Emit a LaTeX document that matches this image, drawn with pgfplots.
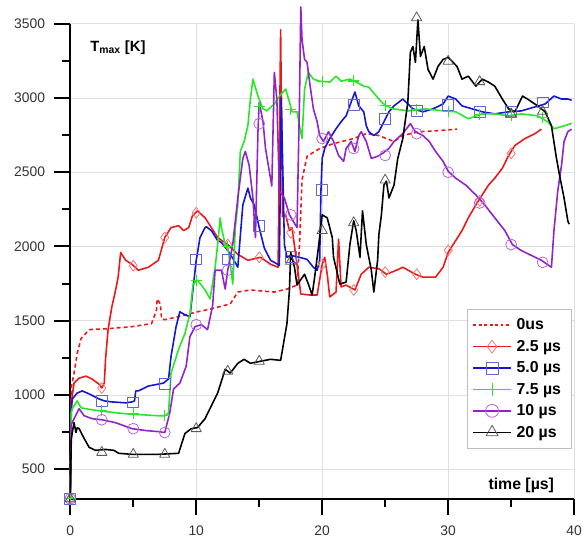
\documentclass[border=0pt]{standalone}
\usepackage{fontspec}
\setmainfont{Liberation Sans}
\usepackage{pgfplots}
\pgfplotsset{compat=1.18}
\usetikzlibrary{calc}
\definecolor{cRed}{RGB}{235,25,25}
\definecolor{cBlue}{RGB}{20,20,210}
\definecolor{cGreen}{RGB}{40,230,40}
\definecolor{cPurple}{RGB}{145,35,200}
\definecolor{mRed}{RGB}{240,120,120}
\definecolor{mBlue}{RGB}{100,100,225}
\definecolor{mPurple}{RGB}{180,100,220}
\definecolor{mGray}{RGB}{90,90,90}
\begin{document}
\begin{tikzpicture}
\begin{axis}[name=ax, scale only axis, width=509pt, height=480pt,
  xmin=0, xmax=40, ymin=300, ymax=3500, clip=false,
  axis x line*=bottom, axis y line*=left,
  axis line style={line width=2.4pt, black},
  xtick={0,10,20,30,40}, minor xtick={5,15,25,35},
  ytick={500,1000,1500,2000,2500,3000,3500}, minor ytick={750,1250,1750,2250,2750,3250},
  tick align=outside, major tick length=16pt, minor tick length=8pt,
  every tick/.style={black, line width=2pt},
  every minor tick/.style={black, line width=2pt},
  grid=major, major grid style={black!12, line width=0.6pt},
  /pgf/number format/assume math mode=true,
  /pgf/number format/1000 sep={},
  ticklabel style={font=\fontsize{14}{16}\selectfont, text=black!80},
  yticklabel style={xshift=-6pt},
  xticklabel style={yshift=-8pt},
  legend style={at={(0.994,0.40)}, anchor=north east, draw=black!25, fill=white,
    font=\bfseries\fontsize{16}{19}\selectfont, row sep=5pt, inner xsep=5pt, inner ysep=8pt,
    nodes={inner xsep=5pt}},
  legend cell align=left,
  every axis plot/.append style={line width=1.6pt, line join=round},
]
\addlegendimage{legend image code/.code={\draw[cRed, line width=1.6pt, dash pattern=on 3pt off 2.5pt] (0pt,0pt) -- (38pt,0pt);}}
\addlegendentry{0us}
\addlegendimage{legend image code/.code={\draw[cRed, line width=1.6pt] (0pt,0pt) -- (38pt,0pt); \draw[mRed, line width=0.8pt] plot[mark=diamond, mark size=6.5pt] coordinates {(19pt,0pt)};}}
\addlegendentry{2.5 µs}
\addlegendimage{legend image code/.code={\draw[cBlue, line width=1.6pt] (0pt,0pt) -- (38pt,0pt); \draw[mBlue, line width=0.8pt] plot[mark=square, mark size=6pt] coordinates {(19pt,0pt)};}}
\addlegendentry{5.0 µs}
\addlegendimage{legend image code/.code={\draw[cGreen, line width=1.6pt] (0pt,0pt) -- (38pt,0pt); \draw[cGreen, line width=1.2pt] plot[mark=+, mark size=7pt] coordinates {(19pt,0pt)};}}
\addlegendentry{7.5 µs}
\addlegendimage{legend image code/.code={\draw[cPurple, line width=1.6pt] (0pt,0pt) -- (38pt,0pt); \draw[mPurple, line width=0.8pt] plot[mark=o, mark size=6.5pt] coordinates {(19pt,0pt)};}}
\addlegendentry{10 µs}
\addlegendimage{legend image code/.code={\draw[black, line width=1.6pt] (0pt,0pt) -- (38pt,0pt); \draw[mGray, line width=0.8pt] plot[mark=triangle, mark size=7pt] coordinates {(19pt,0pt)};}}
\addlegendentry{20 µs}

% 0us
\addplot[cRed, dash pattern=on 4pt off 3pt, forget plot] coordinates {
(0,300) (0.05,900) (0.1,1060) (0.3,1147) (0.55,1280) (0.86,1380) (1.5,1440) (3.1,1447) (4.9,1460) (6.45,1480) (6.85,1573) (6.9,1647) (7.15,1613) (7.25,1513) (7.5,1507) (8.6,1527) (10.1,1560) (11.2,1580) (12.7,1613) (13.3,1693) (14.3,1707) (16.2,1693) (17.2,1713) (18,1740) (18.2,2013) (18.4,2450) (18.8,2607) (19.8,2660) (20.9,2693) (22.5,2727) (23.5,2760) (24.5,2747) (25.7,2707) (26.4,2747) (27.7,2773) (29.2,2780) (30.7,2790)};

% 2.5 us
\addplot[cRed, forget plot] coordinates {
(0,300) (0.08,950) (0.3,1080) (0.7,1113) (1.26,1127) (1.73,1107) (2.28,1073) (2.5,1047) (2.7,1080) (2.8,1240) (3.0,1440) (3.3,1593) (3.6,1707) (3.8,1793) (4.0,1960) (4.4,1907) (4.9,1880) (5.4,1840) (6.2,1860) (7.0,1907) (7.5,2060) (8.0,2127) (8.6,2140) (9.0,2107) (9.4,2127) (9.7,2207) (10.1,2240) (10.7,2193) (11.2,2127) (11.7,2060) (12.5,2013) (13.3,1947) (14.1,1907) (15.1,1927) (15.9,1880) (16.5,1860) (16.7,3460) (16.85,2200) (17.1,2213) (17.4,2107) (17.6,2127) (18.0,1880) (18.3,1680) (19.0,1673) (19.6,1673) (20.0,1880) (20.2,1927) (20.4,1813) (20.6,1660) (21.1,1693) (21.3,2050) (21.5,1727) (21.9,1740) (22.6,1707) (23.1,1813) (23.7,1860) (24.5,1850) (25.1,1813) (25.9,1840) (26.4,1860) (27.4,1813) (28.0,1793) (29.0,1793) (29.6,1860) (30.0,1960) (30.6,2040) (31.1,2107) (31.6,2193) (32.2,2280) (32.7,2347) (33.2,2413) (33.7,2460) (34.3,2527) (34.8,2613) (35.3,2680) (36.1,2727) (36.9,2760) (37.4,2790)};
\addplot[only marks, mark=diamond, mark size=5.5pt, mark options={mRed, line width=0.8pt}, forget plot] coordinates {
(0,300) (2.5,1047) (5,1870) (7.5,2060) (10,2227) (12.5,2013) (15,1927) (17.5,2093) (20,1880) (22.5,1707) (25,1827) (27.5,1813) (30,1973) (32.5,2307) (35,2627)};

% 5.0 us
\addplot[cBlue, forget plot] coordinates {
(0,300) (0.08,900) (0.16,973) (0.55,1013) (0.95,1027) (1.5,1007) (2.28,973) (2.7,960) (3.3,953) (4.4,947) (4.9,953) (5.1,960) (5.2,1027) (5.4,1027) (6.2,1060) (7.0,1073) (7.4,1080) (7.8,1107) (8.0,1260) (8.4,1460) (8.7,1560) (9.1,1540) (9.5,1527) (9.7,1680) (10.0,1907) (10.3,2060) (10.7,2127) (10.8,2133) (11.2,2107) (11.7,2040) (12.0,2027) (12.5,1973) (13.0,1907) (13.3,1860) (13.7,2280) (14.1,2393) (14.3,2327) (14.6,2280) (15.0,2127) (15.4,1990) (15.9,1907) (16.6,1873) (16.75,3000) (17.0,2013) (17.2,1927) (17.5,1940) (18.2,1927) (18.8,1913) (19.3,1860) (19.6,1840) (19.8,1907) (19.9,2373) (20.0,2593) (20.2,2660) (20.6,2727) (21.1,2793) (21.5,2840) (21.9,2880) (22.3,2973) (22.6,3040) (22.9,2947) (23.3,2907) (23.5,2813) (23.7,2773) (24.1,2747) (24.5,2773) (24.9,2840) (25.3,2907) (25.7,2947) (26.4,2993) (27.2,2927) (28.0,2907) (28.8,2927) (29.6,2960) (30.0,3013) (30.6,2993) (31.1,2947) (31.9,2927) (32.7,2907) (33.7,2893) (34.8,2907) (35.8,2913) (36.9,2940) (37.7,2960) (38.4,3013) (39.0,2993) (39.5,2993) (39.8,2985)};
\addplot[only marks, mark=square, mark size=5.5pt, mark options={mBlue, line width=0.8pt}, forget plot] coordinates {
(0,300) (2.5,960) (5,950) (7.5,1073) (10,1913) (12.5,1913) (15,2140) (17.5,1930) (20,2380) (22.5,2955) (25,2860) (27.5,2915) (30,2955) (32.5,2907) (35,2907) (37.5,2970)};

% 7.5 us
\addplot[cGreen, forget plot] coordinates {
(0,300) (0.08,880) (0.16,907) (0.55,960) (0.86,913) (1.26,907) (2.28,893) (4.4,873) (7.0,860) (7.5,860) (7.8,880) (8.0,1147) (8.6,1307) (9.1,1413) (9.5,1547) (9.75,1747) (10.1,1773) (10.7,1707) (11.1,1647) (11.5,1860) (11.7,2013) (11.9,2193) (12.0,2127) (12.3,2013) (12.5,2000) (12.9,1747) (13.0,1907) (13.1,2127) (13.3,2280) (13.5,2640) (13.8,2707) (14.1,2813) (14.3,2993) (14.5,3127) (14.9,3013) (15.3,2927) (15.6,2913) (16.2,2960) (16.6,3013) (17.1,3060) (17.4,2973) (17.6,2907) (18.0,2907) (18.2,2813) (18.4,2727) (18.6,3060) (18.9,3173) (19.3,3127) (19.8,3113) (20.6,3107) (21.1,3147) (21.5,3113) (22.2,3127) (22.7,3107) (23.3,3080) (23.7,3073) (24.3,3013) (24.7,2973) (25.1,2947) (25.6,2927) (26.9,2913) (28.2,2927) (29.6,2913) (30.6,2907) (31.6,2860) (32.7,2893) (33.7,2893) (34.8,2880) (35.8,2893) (37.1,2880) (37.9,2840) (38.4,2793) (39.0,2807) (39.5,2820) (39.8,2830)};
\addplot[only marks, mark=+, mark size=5.5pt, mark options={cGreen, line width=1.2pt}, forget plot] coordinates {
(0,300) (2.5,893) (5,873) (7.5,860) (10,1773) (12.5,2000) (15,2940) (17.5,2920) (20,3110) (22.5,3115) (25,2950) (27.5,2920) (30,2910) (32.5,2890) (35,2880) (37.5,2870)};

% 10 us
\addplot[cPurple, forget plot] coordinates {
(0,300) (0.08,800) (0.3,840) (0.7,907) (1.1,860) (1.73,840) (2.5,833) (3.6,813) (4.9,773) (6.0,760) (7.0,753) (7.5,747) (7.9,880) (8.2,1040) (8.7,1080) (9.2,1193) (9.5,1393) (9.9,1460) (10.4,1473) (10.9,1440) (11.3,1600) (11.5,1840) (12.0,1840) (12.3,1713) (12.5,1840) (12.9,2013) (13.3,2327) (13.7,2593) (13.9,2640) (14.2,2547) (14.5,2327) (14.7,2060) (14.9,2773) (15.0,2973) (15.3,2840) (15.5,2660) (15.8,2507) (16.0,2407) (16.2,3173) (16.4,2993) (16.6,2373) (17.0,2327) (17.4,2213) (18.0,2127) (18.2,2993) (18.3,3613) (18.4,3393) (18.6,3260) (18.8,3240) (19.0,3107) (19.3,2927) (19.6,2840) (19.8,2747) (20.1,2707) (20.5,2773) (20.9,2707) (21.3,2613) (21.7,2573) (21.9,2660) (22.3,2707) (22.6,2640) (22.9,2747) (23.1,2773) (23.5,2707) (23.9,2593) (24.4,2607) (24.8,2627) (25.3,2660) (25.7,2707) (26.4,2760) (27.0,2827) (27.4,2773) (28.0,2747) (28.5,2707) (29.0,2640) (29.6,2573) (30.0,2507) (30.6,2460) (31.4,2413) (32.2,2347) (32.9,2280) (33.7,2193) (34.5,2107) (35.1,2013) (35.8,1973) (36.6,1940) (37.4,1907) (38.2,1860) (38.4,2107) (38.7,2373) (39.0,2547) (39.2,2707) (39.5,2773) (39.8,2790)};
\addplot[only marks, mark=o, mark size=5.5pt, mark options={mPurple, line width=0.8pt}, forget plot] coordinates {
(0,300) (2.5,833) (5,773) (7.5,747) (10,1473) (12.5,1840) (15,2827) (17.5,2213) (20,2727) (22.5,2660) (25,2613) (27.5,2760) (30,2500) (32.5,2293) (35,2013) (37.5,1893)};

% 20 us
\addplot[black, forget plot] coordinates {
(0,300) (0.08,700) (0.16,747) (0.3,813) (0.45,747) (0.55,780) (0.7,773) (1.1,707) (1.5,647) (2.0,627) (2.8,633) (3.46,627) (3.85,607) (4.9,600) (7.0,600) (8.6,607) (9.1,740) (9.6,773) (10.1,780) (10.7,840) (11.2,927) (11.7,1013) (12.3,1173) (12.7,1147) (13.3,1213) (13.8,1240) (14.3,1213) (15.1,1227) (15.9,1240) (16.7,1233) (17.2,1480) (17.4,1707) (17.5,1960) (17.8,1860) (18.0,1740) (18.6,1813) (18.9,1747) (19.2,1673) (19.4,1793) (19.7,1993) (20.0,2213) (20.4,2193) (20.8,2060) (20.9,1927) (21.4,1747) (21.9,1760) (22.2,2013) (22.5,2173) (22.7,2107) (23.0,1927) (23.2,2240) (23.5,2013) (23.9,1840) (24.1,1693) (24.4,1907) (24.5,2080) (24.7,2213) (24.9,2413) (25.1,2440) (25.3,2327) (25.7,2413) (26.0,2593) (26.4,2727) (26.8,2973) (27.0,3307) (27.2,3347) (27.4,3240) (27.6,3527) (27.8,3280) (28.1,3347) (28.4,3193) (28.8,3127) (29.2,3213) (29.6,3260) (30.0,3273) (30.7,3213) (31.1,3127) (31.6,3147) (32.2,3080) (32.7,3127) (33.2,3107) (33.7,3080) (34.3,2993) (34.8,2927) (35.3,2907) (35.9,3013) (36.3,2993) (37.1,2947) (37.7,2907) (38.2,2813) (38.6,2593) (38.8,2500) (39.2,2327) (39.5,2173) (39.6,2150)};
\addplot[only marks, mark=triangle, mark size=6pt, mark options={mGray, line width=0.8pt}, forget plot] coordinates {
(0,300) (2.5,613) (5,600) (7.5,600) (10,773) (12.5,1160) (15,1227) (17.5,1900) (20,2107) (22.5,2160) (25,2447) (27.5,3540) (30,3247) (32.5,3110) (35,2893) (37.5,2910)};

\node[anchor=west, font=\bfseries\fontsize{15}{18}\selectfont] at (rel axis cs:0.033,0.95) {T\textsubscript{max} [K]};
\node[anchor=east, font=\bfseries\fontsize{16}{19}\selectfont] at (rel axis cs:0.967,0.029) {time [µs]};
\end{axis}
\pgfresetboundingbox
\path[use as bounding box] ($(ax.south west)+(-71pt,-39pt)$) rectangle ($(ax.north east)+(11pt,24pt)$);
\end{tikzpicture}
\end{document}
